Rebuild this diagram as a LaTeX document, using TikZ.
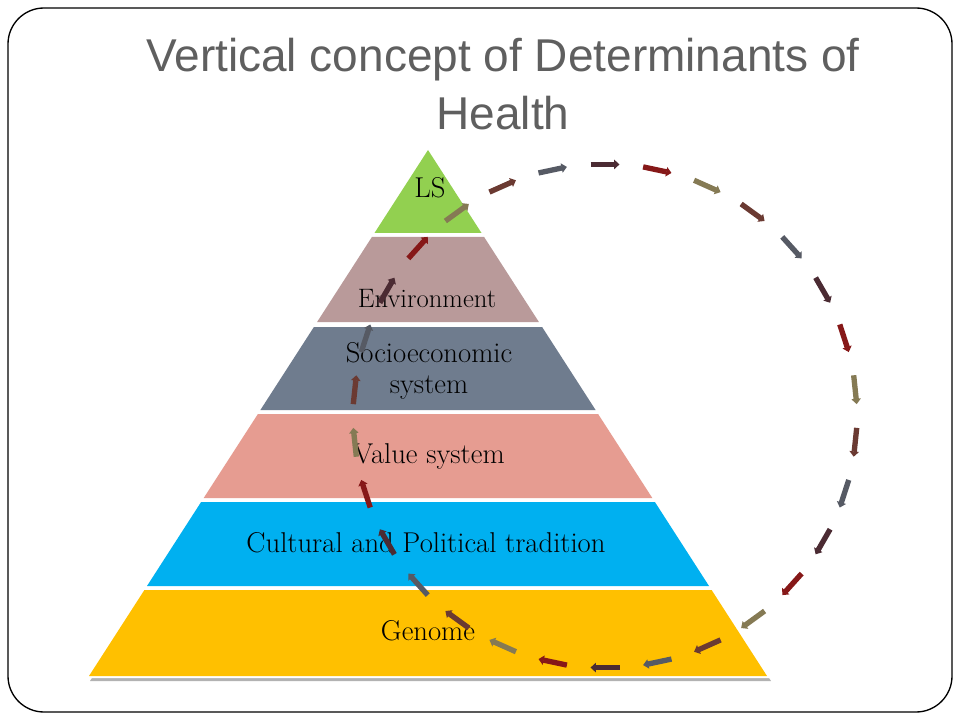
\documentclass[tikz,border=0pt]{standalone}
\usepackage{fontspec}
\usetikzlibrary{arrows.meta}
\newfontfamily\titlefont{Liberation Sans}
\definecolor{lsgreen}{HTML}{92D050}
\definecolor{envrose}{HTML}{B99A9A}
\definecolor{socioslate}{HTML}{6F7C8E}
\definecolor{valuesalmon}{HTML}{E69C91}
\definecolor{culturecyan}{HTML}{00B0F0}
\definecolor{genomegold}{HTML}{FFC000}
\definecolor{titlegray}{HTML}{5F5F5F}
\definecolor{ring0}{HTML}{6B3A32}
\definecolor{ring1}{HTML}{565A64}
\definecolor{ring2}{HTML}{4B2B33}
\definecolor{ring3}{HTML}{861818}
\definecolor{ring4}{HTML}{857A54}
\tikzset{
  layertext/.style={anchor=base,font=\fontsize{21.5}{24}\selectfont},
  titletext/.style={anchor=base,text=titlegray,font=\titlefont\fontsize{34.5}{40}\selectfont},
  looparrow/.style={line width=4pt,-{Triangle[length=4pt,width=7pt]}},
}
\begin{document}
\begin{tikzpicture}[x=0.75pt,y=-0.75pt]
\useasboundingbox (0,0) rectangle (960,720);
\draw[line width=1pt,rounded corners=27pt] (8,8) rectangle (952,712);
% title
\node[titletext] (title) at (503,72) {Vertical concept of Determinants of};
\node[titletext] (title2) at (503,130) {Health};
% pyramid, shadow first
\fill[black!30] (430,153) -- (771,681) -- (90,681) -- cycle;
\fill[white] (428,146) -- (772,678) -- (85,678) -- cycle;
\fill[lsgreen] (428,150) -- (481.5,233) -- (374.5,233) -- cycle;
\fill[envrose] (371.9,237) -- (484.1,237) -- (538.9,322) -- (317.1,322) -- cycle;
\fill[socioslate] (313.9,327) -- (542.1,327) -- (595.6,410) -- (260.4,410) -- cycle;
\fill[valuesalmon] (257.9,414) -- (598.1,414) -- (652.3,498) -- (203.7,498) -- cycle;
\fill[culturecyan] (201.1,502) -- (654.9,502) -- (709.0,586) -- (147.0,586) -- cycle;
\fill[genomegold] (144.4,590) -- (711.6,590) -- (767.0,676) -- (89.0,676) -- cycle;
\node[layertext] (ls) at (430,198) {LS};
\node[layertext,font=\fontsize{20}{22}\selectfont] (env) at (427,307) {Environment};
\node[layertext] (socio) at (429,362) {Socioeconomic};
\node[layertext] (socio2) at (429,393) {system};
\node[layertext] (value) at (429,463) {Value system};
\node[layertext] (culture) at (426,552) {Cultural and Political tradition};
\node[layertext] (genome) at (428,640) {Genome};
% ring of arrows
\foreach \a [evaluate=\a as \k using {int(mod(round((\a-6)/12),5))}] in {6,18,...,354} {
  \coordinate (s\a) at ({605+252*cos(\a-3.3)},{416+252*sin(\a-3.3)});
  \coordinate (e\a) at ({605+252*cos(\a+3.3)},{416+252*sin(\a+3.3)});
  \draw[looparrow,draw=ring\k] (s\a) -- (e\a);
}
\end{tikzpicture}
\end{document}
